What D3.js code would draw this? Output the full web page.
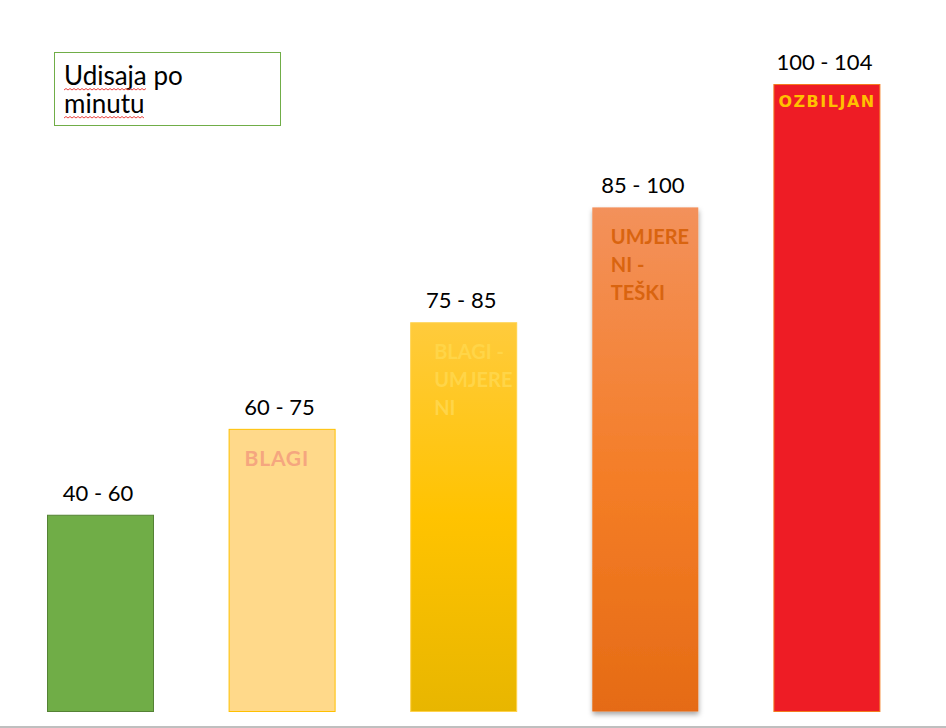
<!DOCTYPE html>
<html><head><meta charset="utf-8">
<script src="https://cdn.jsdelivr.net/npm/d3@7"></script>
<style>html,body{margin:0;padding:0;background:#fff;}</style>
</head><body>
<script>
// ---- data ----
const ranges = ["40 - 60", "60 - 75", "75 - 85", "85 - 100", "100 - 104"];
const levels = [[], ["BLAGI"], ["BLAGI -", "UMJERE", "NI"], ["UMJERE", "NI -", "TEŠKI"], ["OZBILJAN"]];
const values = [31.3, 45, 62, 80.4, 100];
const titleLines = ["Udisaja po", "minutu"];

const W = 946, H = 728;
const svg = d3.select("body").append("svg").attr("width", W).attr("height", H);
const defs = svg.append("defs");

const x = d3.scalePoint().domain(ranges).range([100, 826.4]);
const y = d3.scaleLinear().domain([0, 100]).range([711, 84]);
const bw = 106;

// styles per bar index
const fills = ["#70AD47", "#FFD98A", "url(#g3)", "url(#g4)", "#EE1C25"];
const strokes = ["#548235", "#FFC000", "#FFD24A", "none", "#F47B20"];
const txtFill = [null, "#F5A67F", "#FFD548", "#D9640F", "#FFC000"];

const g3 = defs.append("linearGradient").attr("id", "g3").attr("x1", 0).attr("x2", 0).attr("y1", 0).attr("y2", 1);
g3.append("stop").attr("offset", "0%").attr("stop-color", "#FFCB3C");
g3.append("stop").attr("offset", "50%").attr("stop-color", "#FFC300");
g3.append("stop").attr("offset", "100%").attr("stop-color", "#E8B600");
const g4 = defs.append("linearGradient").attr("id", "g4").attr("x1", 0).attr("x2", 0).attr("y1", 0).attr("y2", 1);
g4.append("stop").attr("offset", "0%").attr("stop-color", "#F3915B");
g4.append("stop").attr("offset", "55%").attr("stop-color", "#F47D26");
g4.append("stop").attr("offset", "100%").attr("stop-color", "#E56B15");
const sh = defs.append("filter").attr("id", "sh").attr("x", "-20%").attr("y", "-10%").attr("width", "140%").attr("height", "125%");
sh.append("feDropShadow").attr("dx", 0.5).attr("dy", 3).attr("stdDeviation", 2.5).attr("flood-color", "#000").attr("flood-opacity", 0.35);

// bottom grey line
svg.append("line").attr("x1", 0).attr("x2", W).attr("y1", 727).attr("y2", 727)
  .attr("stroke", "#BFBFBF").attr("stroke-width", 2);

const data = ranges.map((r, i) => ({r, i, v: values[i], lines: levels[i]}));

svg.selectAll("rect.bar").data(data).enter().append("rect")
  .attr("class", "bar")
  .attr("x", d => x(d.r) - bw / 2 + 0.5)
  .attr("y", d => y(d.v) + 0.5)
  .attr("width", bw)
  .attr("height", d => y(0) - y(d.v))
  .attr("fill", d => fills[d.i])
  .attr("stroke", d => strokes[d.i])
  .attr("stroke-width", 1)
  .attr("filter", d => d.i === 3 ? "url(#sh)" : null);

// range labels
svg.selectAll("text.rl").data(data).enter().append("text")
  .attr("class", "rl")
  .attr("x", d => x(d.r) - 2)
  .attr("y", d => y(d.v) - 14)
  .attr("text-anchor", "middle")
  .attr("font-family", "Lato, sans-serif")
  .attr("font-size", 22)
  .attr("fill", "#000")
  .text(d => d.r);

// level labels inside bars
const offX = [0, 16, 24, 19, 5];
const fsz = [0, 21, 20, 20, 16];
data.forEach(d => {
  if (!d.lines.length) return;
  const t = svg.append("text")
    .attr("font-family", d.i === 4 ? "'DejaVu Sans', sans-serif" : "Lato, sans-serif")
    .attr("font-weight", "bold")
    .attr("font-size", fsz[d.i])
    .attr("letter-spacing", d.i === 4 ? 1.5 : (d.i === 1 ? 0.8 : 0))
    .attr("fill", txtFill[d.i]);
  d.lines.forEach((ln, k) => {
    t.append("tspan")
      .attr("x", x(d.r) - bw / 2 + offX[d.i])
      .attr("y", y(d.v) + (d.i === 4 ? 23 : 37) + k * 28)
      .text(ln);
  });
});

// title box
svg.append("rect").attr("x", 54.5).attr("y", 52.5).attr("width", 226).attr("height", 73)
  .attr("fill", "#fff").attr("stroke", "#70AD47").attr("stroke-width", 1);
const tt = svg.append("text").attr("font-family", "Lato, sans-serif").attr("font-size", 26).attr("fill", "#000");
titleLines.forEach((ln, k) => {
  tt.append("tspan").attr("x", 64).attr("y", 85 + k * 28).text(ln);
});
// spell-check squiggles under "Udisaja" and "minutu"
const tsp = tt.selectAll("tspan").nodes();
function squiggle(x0, x1, yb) {
  let p = `M${x0},${yb}`;
  let up = true;
  for (let xx = x0 + 2; xx <= x1; xx += 2) { p += `L${xx},${yb + (up ? -1.5 : 0)}`; up = !up; }
  svg.append("path").attr("d", p).attr("fill", "none").attr("stroke", "#E8302A").attr("stroke-width", 0.9);
}
const w1 = tsp[0].getSubStringLength(0, 7);
squiggle(64, 64 + w1, 90);
const w2 = tsp[1].getComputedTextLength();
squiggle(64, 64 + w2, 118);
</script>
</body></html>
